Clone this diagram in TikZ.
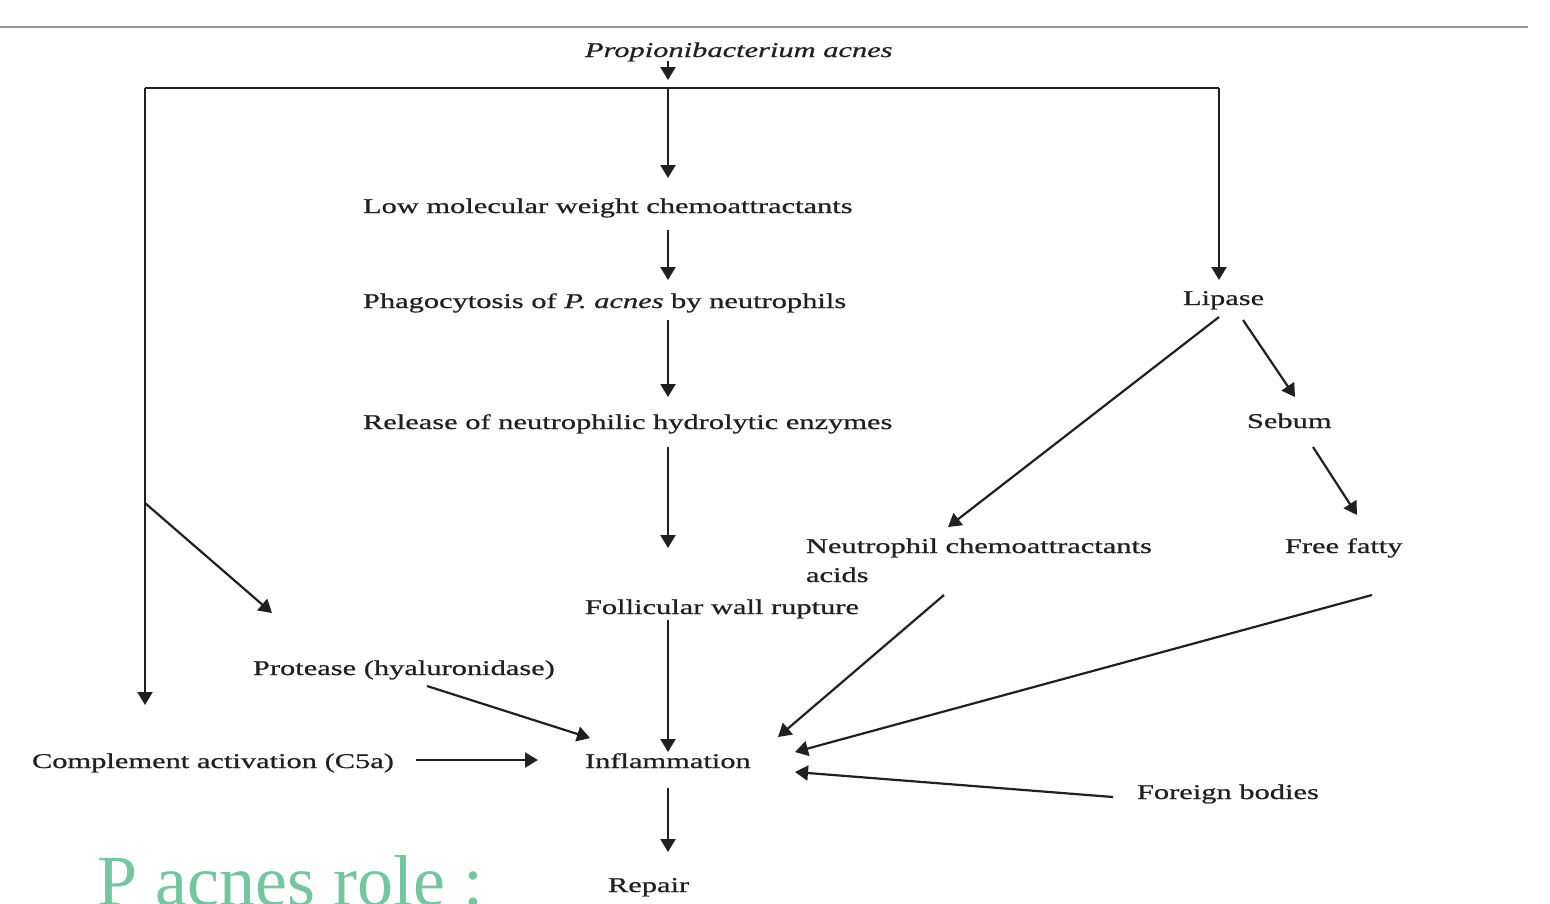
\documentclass[tikz,border=0pt]{standalone}
\usepackage{fontspec}
\setmainfont{Liberation Serif}
\newfontfamily\diagfont{Liberation Serif}[FakeStretch=1.45, FakeBold=0.8]
\usepackage{tikz}
\usetikzlibrary{arrows.meta, calc}
\definecolor{ink}{RGB}{32,32,32}
\definecolor{rulegray}{RGB}{150,150,150}
\definecolor{slidegreen}{RGB}{118,197,160}

\begin{document}
\begin{tikzpicture}[
  x=1pt, y=-1pt,
  lbl/.style={font=\diagfont\fontsize{21}{25}\selectfont, text=ink,
              inner sep=0pt, outer sep=0pt, anchor=base west},
  ln/.style={draw=ink, line width=2.2pt},
  arr/.style={ln, -{Triangle[length=13pt,width=15pt]}},
]
  \useasboundingbox (0,0) rectangle (1550,903);
  \draw[rulegray, line width=2pt] (0,27) -- (1528,27);

  % Labels
  \node[lbl, font=\diagfont\itshape\fontsize{21}{25}\selectfont] (acnes) at (585,57) {Propionibacterium acnes};
  \node[lbl] (low) at (363,213) {Low molecular weight chemoattractants};
  \node[lbl] (phago) at (363,308) {Phagocytosis of \textit{P. acnes} by neutrophils};
  \node[lbl] (rel) at (363,429) {Release of neutrophilic hydrolytic enzymes};
  \node[lbl] (foll) at (585,614) {Follicular wall rupture};
  \node[lbl] (infl) at (585,768) {Inflammation};
  \node[lbl] (repair) at (608,892) {Repair};
  \node[lbl] (lipase) at (1183,305) {Lipase};
  \node[lbl] (sebum) at (1247,428) {Sebum};
  \node[lbl] (neuc) at (806,553) {Neutrophil chemoattractants};
  \node[lbl] (acids) at (806,582) {acids};
  \node[lbl] (ffat) at (1285,553) {Free fatty};
  \node[lbl] (prot) at (253,675) {Protease (hyaluronidase)};
  \node[lbl] (cmpl) at (32,768) {Complement activation (C5a)};
  \node[lbl] (foreign) at (1137,799) {Foreign bodies};

  % Junctions
  \coordinate (jc) at (668,88);
  \coordinate (jl) at (145,88);
  \coordinate (jr) at (1219,88);
  \coordinate (jp) at (145,503);

  % Branches from P. acnes
  \draw[arr, shorten >=8pt] (acnes.south -| jc) -- (jc);
  \draw[ln] (jl) -- (jr);
  \draw[arr] (jc) -- ([shift={(305,-35)}]low.base west);
  \draw[arr] (jl) -- ([shift={(113,-63)}]cmpl.base west);
  \draw[arr] (jp) -- ([shift={(19,-62)}]prot.base west);
  \draw[arr] (jr) -- ([shift={(36,-25)}]lipase.base west);

  % Central chain
  \draw[arr] ([shift={(305,17)}]low.base west) -- ([shift={(305,-28)}]phago.base west);
  \draw[arr] ([shift={(305,12)}]phago.base west) -- ([shift={(305,-32)}]rel.base west);
  \draw[arr] ([shift={(305,18)}]rel.base west) -- ([shift={(83,-66)}]foll.base west);
  \draw[arr] ([shift={(83,6)}]foll.base west) -- ([shift={(83,-16)}]infl.base west);
  \draw[arr] ([shift={(83,20)}]infl.base west) -- ([shift={(60,-40)}]repair.base west);

  % Lipase side
  \draw[arr] ([shift={(36,12)}]lipase.base west) -- ([shift={(142,-26)}]neuc.base west);
  \draw[arr] ([shift={(60,15)}]lipase.base west) -- ([shift={(48,-31)}]sebum.base west);
  \draw[arr] ([shift={(66,19)}]sebum.base west) -- ([shift={(72,-38)}]ffat.base west);

  % Into inflammation
  \draw[arr] ([shift={(138,13)}]acids.base west) -- ([shift={(193,-31)}]infl.base west);
  \draw[arr] ([shift={(87,42)}]ffat.base west) -- ([shift={(210,-16)}]infl.base west);
  \draw[arr] ([shift={(-24,-2)}]foreign.base west) -- ([shift={(210,4)}]infl.base west);
  \draw[arr] ([shift={(174,11)}]prot.base west) -- ([shift={(5,-30)}]infl.base west);
  \draw[arr] ([shift={(384,-8)}]cmpl.base west) -- ([shift={(-47,-8)}]infl.base west);

  % Slide title
  \begin{scope}
    \clip (0,0) rectangle (1550,903);
    \node[anchor=base west, inner sep=0pt, text=slidegreen,
          font=\fontsize{72}{80}\selectfont] (title) at (97,905) {P acnes role :};
  \end{scope}
\end{tikzpicture}
\end{document}
